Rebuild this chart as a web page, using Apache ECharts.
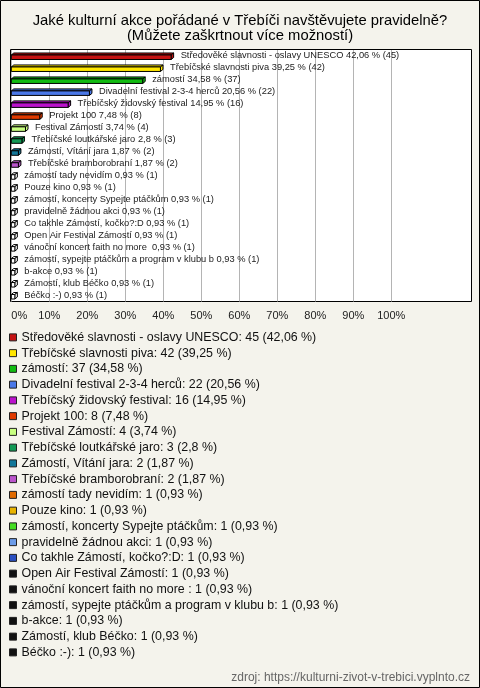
<!DOCTYPE html>
<html>
<head>
<meta charset="utf-8">
<script src="https://cdn.jsdelivr.net/npm/echarts@6/dist/echarts.min.js"></script>
<style>html,body{margin:0;padding:0;background:#f4f3ec;}#c{width:480px;height:688px;}</style>
</head>
<body>
<div id="c"></div>
<script>
var categories = [
  "Středověké slavnosti - oslavy UNESCO",
  "Třebíčské slavnosti piva",
  "zámostí",
  "Divadelní festival 2-3-4 herců",
  "Třebíčský židovský festival",
  "Projekt 100",
  "Festival Zámostí",
  "Třebíčské loutkářské jaro",
  "Zámostí, Vítání jara",
  "Třebíčské bramborobraní",
  "zámostí tady nevidím",
  "Pouze kino",
  "zámostí, koncerty Sypejte ptáčkům",
  "pravidelně žádnou akci",
  "Co takhle Zámostí, kočko?:D",
  "Open Air Festival Zámostí",
  "vánoční koncert faith no more ",
  "zámostí, sypejte ptáčkům a program v klubu b",
  "b-akce",
  "Zámostí, klub Béčko",
  "Béčko :-)"
];
var counts = [45, 42, 37, 22, 16, 8, 4, 3, 2, 2, 1, 1, 1, 1, 1, 1, 1, 1, 1, 1, 1];
var percents = [42.06, 39.25, 34.58, 20.56, 14.95, 7.48, 3.74, 2.8, 1.87, 1.87, 0.93, 0.93, 0.93, 0.93, 0.93, 0.93, 0.93, 0.93, 0.93, 0.93, 0.93];
var colors = ["#c41212", "#ffe600", "#12bb12", "#4a78e8", "#bb12cc", "#e03a00", "#c8ff80", "#129955", "#127799", "#bb55cc", "#e06a00", "#e8b400", "#44dd22", "#6c9ce8", "#2a4fc0", "#111111", "#111111", "#111111", "#111111", "#111111", "#111111"];
var xTicks = { min: 0, max: 100, interval: 10 };

function fmt(v) { return String(v).replace('.', ','); }

var FONT = '"Liberation Sans", Arial, sans-serif';

var series = [{
  type: 'custom',
  name: '__bars',
  xAxisIndex: 0, yAxisIndex: 0,
  encode: { x: 0, y: 1 },
  data: percents.map(function (p, i) { return [p, i]; }),
  clip: false,
  z: 5,
  renderItem: function (params, api) {
    var v = api.value(0), idx = api.value(1);
    var s = api.coord([0, idx]), e = api.coord([v, idx]);
    var cy = s[1];
    var x0 = s[0], x1 = e[0];
    var fy = cy - 1, h = 4.5, dx = 2.5, dy = 2;
    var small = (x1 - x0) < 5;
    var st = { fill: small ? '#fff' : colors[idx], stroke: '#000', lineWidth: 1 };
    return {
      type: 'group',
      children: [
        { type: 'polygon', shape: { points: [[x0, fy], [x0 + dx, fy - dy], [x1 + dx, fy - dy], [x1, fy]] }, style: st },
        { type: 'polygon', shape: { points: [[x1, fy], [x1 + dx, fy - dy], [x1 + dx, fy - dy + h], [x1, fy + h]] }, style: st },
        { type: 'rect', shape: { x: x0, y: fy, width: x1 - x0, height: h }, style: st },
        { type: 'text', x: x1 + dx + 7, y: cy - 0.5,
          style: { text: categories[idx] + ' ' + fmt(percents[idx]) + ' % (' + counts[idx] + ')',
                   fill: '#222', font: '9.3px ' + FONT, verticalAlign: 'middle', align: 'left' } }
      ]
    };
  }
}];
categories.forEach(function (c, i) {
  series.push({ type: 'bar', name: c, data: [], itemStyle: { color: colors[i] } });
});

var chart = echarts.init(document.getElementById('c'), null, { renderer: 'canvas' });
chart.setOption({
  backgroundColor: '#f4f3ec',
  animation: false,
  title: [{
    text: 'Jaké kulturní akce pořádané v Třebíči navštěvujete pravidelně?\n(Můžete zaškrtnout více možností)',
    left: 'center', top: 8.5,
    textStyle: { fontSize: 14.8, fontWeight: 'normal', color: '#000', lineHeight: 15, fontFamily: FONT }
  }, {
    text: 'zdroj: https://kulturni-zivot-v-trebici.vyplnto.cz',
    right: 5, top: 667,
    textStyle: { fontSize: 12, fontWeight: 'normal', color: '#666', fontFamily: FONT }
  }],
  grid: { left: 11.3, top: 50, width: 380, height: 251.5, containLabel: false },
  xAxis: {
    type: 'value', min: xTicks.min, max: xTicks.max, interval: xTicks.interval,
    axisLine: { show: false }, axisTick: { show: false },
    axisLabel: { formatter: '{value}%', margin: 9, fontSize: 11, color: '#222', fontFamily: FONT, alignMinLabel: 'left' },
    splitLine: { show: true, lineStyle: { color: '#b4b4b4', width: 1 } }
  },
  yAxis: {
    type: 'category', data: categories, inverse: true,
    axisLine: { show: false }, axisTick: { show: false }, axisLabel: { show: false }, splitLine: { show: false }
  },
  legend: {
    orient: 'vertical', left: 4, top: 324.5,
    icon: 'rect', itemWidth: 7, itemHeight: 7, itemGap: 0,
    selectedMode: false,
    itemStyle: { borderColor: '#222', borderWidth: 1 },
    textStyle: { fontSize: 12.4, color: '#111', fontFamily: FONT, lineHeight: 15.75 },
    data: categories,
    formatter: function (name) {
      var i = categories.indexOf(name);
      return name + ': ' + counts[i] + ' (' + fmt(percents[i]) + ' %)';
    }
  },
  graphic: [
    { type: 'rect', z: -10, shape: { x: 10.5, y: 49.5, width: 461, height: 252 }, style: { fill: '#fff', stroke: '#000', lineWidth: 1 } },
    { type: 'rect', z: 100, shape: { x: 0.5, y: 0.5, width: 479, height: 687 }, style: { fill: 'none', stroke: '#000', lineWidth: 1 } }
  ],
  series: series
});
</script>
</body>
</html>
